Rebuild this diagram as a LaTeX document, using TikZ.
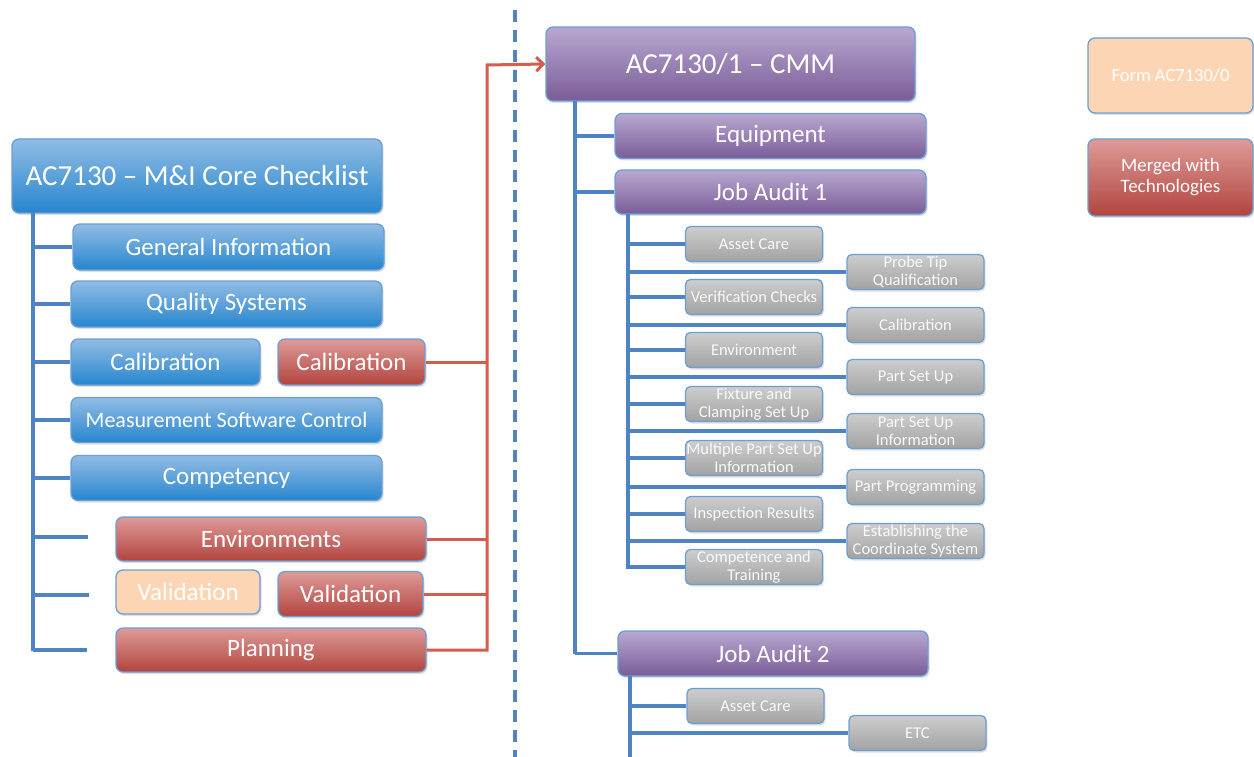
\documentclass[tikz,border=0pt]{standalone}
\usepackage{fontspec}
\setmainfont{Carlito}
\usetikzlibrary{arrows.meta,shadows}
\definecolor{bltop}{RGB}{145,188,228}
\definecolor{blbot}{RGB}{38,134,206}
\definecolor{rdtop}{RGB}{222,155,152}
\definecolor{rdbot}{RGB}{178,68,62}
\definecolor{pptop}{RGB}{184,168,208}
\definecolor{ppbot}{RGB}{122,92,152}
\definecolor{grtop}{RGB}{205,205,205}
\definecolor{grbot}{RGB}{162,162,162}
\definecolor{peach}{RGB}{252,214,180}
\definecolor{bord}{RGB}{108,158,214}
\definecolor{conn}{RGB}{79,132,196}
\definecolor{rconn}{RGB}{214,92,78}
\tikzset{
  boxbase/.style={draw=bord, line width=1.3pt, rounded corners=7pt, text=white, align=center, inner sep=0pt,
    drop shadow={opacity=0.25, shadow xshift=1.5pt, shadow yshift=-2pt}},
  bluebox/.style={boxbase, top color=bltop, bottom color=blbot},
  redbox/.style={boxbase, top color=rdtop, bottom color=rdbot},
  purplebox/.style={boxbase, top color=pptop, bottom color=ppbot},
  graybox/.style={boxbase, rounded corners=5pt, top color=grtop, bottom color=grbot, text=white!95!gray,
    minimum width=137pt, minimum height=35pt, font=\fontsize{16.5}{17.5}\selectfont},
  peachbox/.style={boxbase, fill=peach},
  bigtxt/.style={font=\fontsize{29}{29}\selectfont},
  midtxt/.style={font=\fontsize{25}{25}\selectfont},
  bl/.style={draw=conn, line width=3.4pt},
  rd/.style={draw=rconn, line width=3pt},
}
\begin{document}
\begin{tikzpicture}[x=1pt,y=-1pt]
\useasboundingbox (0,0) rectangle (1254,757);
\fill[white] (0,0) rectangle (1254,757);

% dashed separator
\coordinate (dtop) at (515,10);
\coordinate (dbot) at (515,757);
\draw[draw=conn, line width=3.4pt, dash pattern=on 12pt off 8pt] (dtop) -- (dbot);

% ---------------- left tree ----------------
\node[bluebox, bigtxt, minimum width=370pt, minimum height=74pt] (root) at (197,176) {AC7130 – M\&I Core Checklist};
\node[bluebox, midtxt, minimum width=311pt, minimum height=46pt] (gi) at (228.5,247) {General Information};
\node[bluebox, midtxt, minimum width=311pt, minimum height=46pt] (qs) at (226.5,304) {Quality Systems};
\node[bluebox, midtxt, minimum width=189pt, minimum height=46pt] (cal1) at (165.5,362) {Calibration};
\node[redbox, midtxt, minimum width=147pt, minimum height=46pt] (cal2) at (351.5,362) {Calibration};
\node[bluebox, minimum width=311pt, minimum height=45pt, font=\fontsize{22}{22}\selectfont] (msc) at (226.5,420) {Measurement Software Control};
\node[bluebox, midtxt, minimum width=311pt, minimum height=45pt] (comp) at (226.5,478) {Competency};
\node[redbox, midtxt, minimum width=310pt, minimum height=44pt] (env) at (271,539) {Environments};
\node[peachbox, midtxt, minimum width=144pt, minimum height=44pt] (val1) at (188,592) {Validation};
\node[redbox, midtxt, minimum width=145pt, minimum height=45pt] (val2) at (350.5,594) {Validation};
\node[redbox, midtxt, minimum width=310pt, minimum height=44pt] (plan) at (271,650) {Planning};

\coordinate (ltop) at (33,212);
\coordinate (lbot) at (33,651);
\draw[bl] (ltop) -- (lbot);
\draw[bl] (ltop |- gi.west) -- (gi.west);
\draw[bl] (ltop |- qs.west) -- (qs.west);
\draw[bl] (ltop |- cal1.west) -- (cal1.west);
\draw[bl] (ltop |- msc.west) -- (msc.west);
\draw[bl] (ltop |- comp.west) -- (comp.west);
\coordinate (s1) at (88,537);
\coordinate (s2) at (89,595);
\coordinate (s3) at (87,650);
\draw[bl] (ltop |- s1) -- (s1);
\draw[bl] (ltop |- s2) -- (s2);
\draw[bl] (ltop |- s3) -- (s3);

% red connectors
\coordinate (rtop) at (487,65);
\draw[rd] (cal2.east) -- (cal2.east -| rtop);
\draw[rd] (env.east) -- (env.east -| rtop);
\draw[rd] (val2.east) -- (val2.east -| rtop);

% ---------------- right tree ----------------
\node[purplebox, bigtxt, minimum width=369pt, minimum height=74pt] (cmm) at (730.5,64) {AC7130/1 – CMM};
\node[purplebox, midtxt, minimum width=311pt, minimum height=45pt] (equip) at (770.5,136) {Equipment};
\node[purplebox, midtxt, minimum width=311pt, minimum height=44pt] (ja1) at (770.5,192) {Job Audit 1};
\node[purplebox, midtxt, minimum width=310pt, minimum height=45pt] (ja2) at (773,653.5) {Job Audit 2};

\draw[rd, -{Straight Barb[length=7pt,width=14pt,line width=3pt]}] (plan.east) -- (plan.east -| rtop) -- (rtop) -- (cmm.west);

\node[graybox] (a1) at (754,244) {Asset Care};
\node[graybox] (a2) at (754,297) {Verification Checks};
\node[graybox] (a3) at (754,350) {Environment};
\node[graybox] (a4) at (754,404) {Fixture and\\Clamping Set Up};
\node[graybox] (a5) at (754,458) {Multiple Part Set Up\\Information};
\node[graybox] (a6) at (754,514) {Inspection Results};
\node[graybox] (a7) at (754,567) {Competence and\\Training};
\node[graybox] (b1) at (915.5,272) {Probe Tip\\Qualification};
\node[graybox] (b2) at (915.5,325) {Calibration};
\node[graybox] (b3) at (915.5,377) {Part Set Up};
\node[graybox] (b4) at (915.5,431) {Part Set Up\\Information};
\node[graybox] (b5) at (915.5,487) {Part Programming};
\node[graybox] (b6) at (915.5,541) {Establishing the\\Coordinate System};
\node[graybox] (c1) at (755.5,706) {Asset Care};
\node[graybox] (c2) at (917.5,733) {ETC};

\coordinate (mtop) at (575,101);
\coordinate (mbot) at (575,654);
\draw[bl] (mtop) -- (mbot);
\draw[bl] (mtop |- equip.west) -- (equip.west);
\draw[bl] (mtop |- ja1.west) -- (ja1.west);
\draw[bl] (mtop |- ja2.west) -- (ja2.west);

\coordinate (jtop) at (628,214);
\coordinate (jbot) at (628,569);
\draw[bl] (jtop) -- (jbot);
\foreach \n in {a1,a2,a3,a4,a5,a6,a7,b1,b2,b3,b4,b5,b6}{
  \draw[bl] (jtop |- \n.west) -- (\n.west);
}
\coordinate (ktop) at (630,676);
\coordinate (kbot) at (630,757);
\draw[bl] (ktop) -- (kbot);
\draw[bl] (ktop |- c1.west) -- (c1.west);
\draw[bl] (ktop |- c2.west) -- (c2.west);

% ---------------- legend ----------------
\node[peachbox, minimum width=165pt, minimum height=75pt, font=\fontsize{18.5}{18.5}\selectfont] (form) at (1170.5,75.5) {Form AC7130/0};
\node[redbox, minimum width=165pt, minimum height=77pt, font=\fontsize{19}{21}\selectfont] (merged) at (1170.5,177.5) {Merged with\\Technologies};
\end{tikzpicture}
\end{document}
